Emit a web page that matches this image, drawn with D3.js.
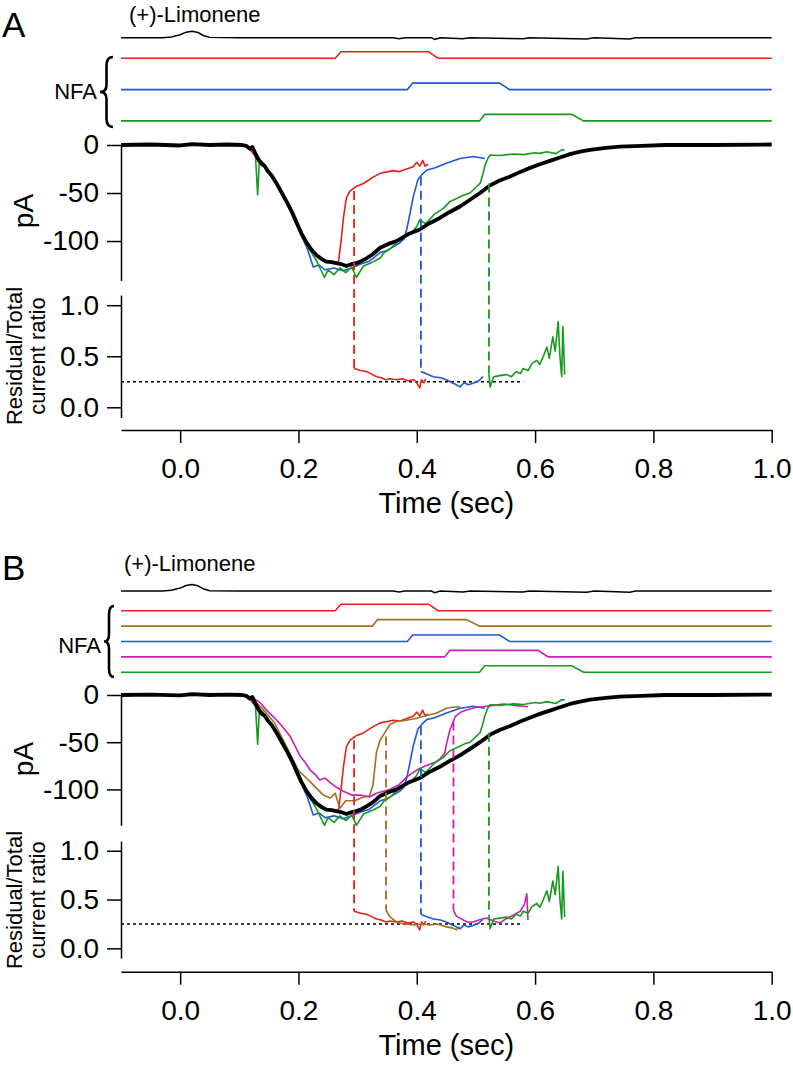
<!DOCTYPE html>
<html>
<head>
<meta charset="utf-8">
<script src="https://cdn.jsdelivr.net/npm/d3@7"></script>
<style>
    body { margin: 0; background: #fff; }
    svg text { font-family: "Liberation Sans", Arial, Helvetica, sans-serif; fill: #000; }
    .axis path, .axis line { stroke: #000; stroke-width: 1.5; }
    .axis text { font-size: 28px; }
</style>
</head>
<body>
<svg id="chart" width="793" height="1066"></svg>
<script>
// ticks
const timeTicks = [0.0, 0.2, 0.4, 0.6, 0.8, 1.0];
const currentTicks = [0, -50, -100];
const ratioTicks = [0.0, 0.5, 1.0];
const ratioLevel = 0.25;
const ratioLevelEnd = 0.58;

// (+)-Limonene puff monitor, 1 = peak of the puff
const limonene = [[-0.1,0],[-0.03,0],[-0.015,0.1],[0.0,0.45],[0.01,0.85],[0.02,1],[0.03,0.8],[0.04,0.3],[0.05,0.05],
    [0.1,0],[0.2,0],[0.36,0],[0.37,-0.15],[0.38,0],[0.425,0],[0.43,-0.25],[0.44,0],[0.478,-0.15],[0.49,0],
    [0.58,-0.15],[0.59,0],[0.687,-0.2],[0.7,0],[0.76,-0.2],[0.77,0],[1.0,0]];

// NFA pulses: rise start, rise end, fall start, fall end (sec)
const nfaRed     = [0.262, 0.272, 0.420, 0.436];
const nfaBrown   = [0.325, 0.334, 0.484, 0.506];
const nfaBlue    = [0.384, 0.393, 0.540, 0.557];
const nfaMagenta = [0.447, 0.456, 0.605, 0.622];
const nfaGreen   = [0.506, 0.515, 0.662, 0.682];

// whole-cell current (pA)
const currentMean = [[-0.1,0],[-0.05,0.5],[0.0,-0.5],[0.02,1],[0.05,0],[0.08,0.5],[0.105,0],[0.112,-1],[0.118,-4],
    [0.122,-2],[0.128,-10],[0.133,-16],[0.138,-20],[0.143,-22],[0.148,-27],[0.155,-32],[0.163,-40],[0.172,-50],
    [0.18,-59],[0.19,-71],[0.197,-81],[0.205,-92],[0.214,-102],[0.222,-109],[0.231,-115],[0.24,-119],[0.247,-121.5],
    [0.256,-122],[0.264,-123],[0.272,-124],[0.281,-126],[0.29,-124],[0.298,-123],[0.306,-121],[0.315,-118],
    [0.325,-114],[0.338,-107],[0.352,-103],[0.366,-100],[0.385,-93],[0.405,-88],[0.42,-82],[0.439,-76],
    [0.455,-70],[0.473,-64],[0.49,-57],[0.507,-50],[0.524,-42],[0.54,-37],[0.557,-33],[0.575,-28],[0.591,-24],
    [0.608,-20],[0.625,-16.5],[0.642,-13],[0.659,-9.5],[0.676,-7],[0.693,-5],[0.72,-3],[0.743,-1.7],[0.78,-1],
    [0.82,0],[0.9,0],[1.0,0.5]];
const currentRed = [[-0.1,0],[0.1,0],[0.115,-2],[0.13,-14],[0.15,-28],[0.17,-48],[0.19,-71],[0.21,-98],[0.23,-114],
    [0.245,-120],[0.258,-122],[0.265,-124],[0.268,-120],[0.272,-100],[0.276,-76],[0.281,-55],[0.287,-48],
    [0.298,-43],[0.307,-41],[0.315,-38],[0.325,-34],[0.338,-29.5],[0.35,-28],[0.36,-26.7],[0.371,-27.7],
    [0.383,-25],[0.394,-22.6],[0.4,-18],[0.405,-22],[0.41,-16],[0.414,-22],[0.419,-20]];
const currentBlue = [[-0.1,0],[0.0,-0.5],[0.1,0],[0.11,-1],[0.125,-5],[0.14,-20],[0.16,-38],[0.18,-60],[0.2,-88],
    [0.215,-108],[0.225,-127],[0.235,-125],[0.245,-130],[0.26,-128],[0.275,-131],[0.29,-128],[0.305,-124],
    [0.32,-121],[0.338,-112],[0.35,-110],[0.36,-106],[0.371,-102],[0.378,-98],[0.383,-88],[0.389,-70],
    [0.394,-54],[0.402,-36],[0.41,-30],[0.417,-26],[0.43,-24],[0.45,-19],[0.46,-17],[0.473,-14],[0.485,-13],
    [0.495,-12],[0.505,-13],[0.515,-14]];
const currentGreen = [[-0.1,0],[0.1,0],[0.12,-2],[0.127,-8],[0.131,-52],[0.134,-15],[0.14,-18],[0.155,-32],
    [0.17,-48],[0.185,-63],[0.2,-86],[0.215,-105],[0.23,-120],[0.244,-138],[0.25,-130],[0.26,-135],[0.27,-128],
    [0.28,-133],[0.29,-127],[0.298,-138],[0.31,-126],[0.325,-122],[0.338,-118],[0.345,-112],[0.355,-108],
    [0.365,-102],[0.375,-96],[0.39,-92],[0.4,-85],[0.405,-78],[0.415,-82],[0.43,-72],[0.445,-66],[0.456,-59],
    [0.47,-55],[0.48,-52],[0.49,-50],[0.5,-44],[0.507,-40],[0.512,-30],[0.515,-22],[0.52,-14],[0.524,-10.4],
    [0.54,-11],[0.563,-9.4],[0.58,-10],[0.6,-8],[0.608,-8.7],[0.62,-7],[0.635,-9],[0.645,-5],[0.65,-5.2]];
const currentBrown = [[-0.1,0],[0.1,0],[0.12,-3],[0.14,-15],[0.16,-30],[0.18,-55],[0.2,-80],[0.22,-92],
    [0.242,-106],[0.254,-109],[0.262,-104],[0.27,-120],[0.28,-112],[0.295,-112],[0.31,-108],[0.32,-107],
    [0.326,-95],[0.332,-60],[0.338,-48],[0.349,-37],[0.355,-31],[0.366,-28],[0.38,-27],[0.4,-24.7],[0.415,-22],
    [0.433,-19.4],[0.45,-14],[0.46,-13],[0.473,-12.4]];
const currentMagenta = [[-0.1,0],[0.1,0],[0.12,-2],[0.135,-8],[0.146,-16],[0.163,-26.5],[0.175,-35],[0.186,-44],
    [0.195,-55],[0.203,-65],[0.212,-72],[0.22,-79.5],[0.228,-84],[0.236,-90],[0.245,-88],[0.254,-93],[0.265,-98],
    [0.276,-102],[0.29,-106],[0.304,-106],[0.32,-108],[0.332,-104],[0.354,-100],[0.37,-95],[0.385,-86],
    [0.4,-79.5],[0.415,-75],[0.433,-70.6],[0.44,-67],[0.447,-62],[0.451,-50],[0.456,-37],[0.465,-23],[0.475,-18],
    [0.484,-16],[0.5,-13],[0.512,-12.4],[0.53,-11],[0.547,-9.5],[0.565,-11],[0.588,-12.4]];

// residual / total current ratio after the NFA pulse
const ratioRed = [[0.294,0.38],[0.3,0.37],[0.305,0.36],[0.315,0.35],[0.322,0.33],[0.332,0.30],[0.34,0.29],
    [0.348,0.27],[0.355,0.28],[0.365,0.27],[0.375,0.28],[0.385,0.26],[0.395,0.27],[0.4,0.24],[0.405,0.19],
    [0.408,0.27],[0.412,0.24],[0.415,0.28]];
const ratioBrown = [[0.348,0.39],[0.355,0.32],[0.366,0.27],[0.371,0.26],[0.38,0.25],[0.394,0.24],[0.41,0.25],
    [0.422,0.24],[0.435,0.25],[0.45,0.22],[0.46,0.21],[0.467,0.19],[0.472,0.22]];
const ratioBlue = [[0.407,0.35],[0.415,0.33],[0.428,0.30],[0.44,0.29],[0.45,0.27],[0.46,0.24],[0.467,0.22],
    [0.473,0.2],[0.48,0.24],[0.487,0.22],[0.495,0.235],[0.505,0.26],[0.512,0.3]];
const ratioMagenta = [[0.462,0.39],[0.467,0.33],[0.473,0.31],[0.485,0.27],[0.495,0.27],[0.505,0.29],[0.518,0.31],
    [0.53,0.28],[0.54,0.26],[0.55,0.3],[0.563,0.34],[0.575,0.38],[0.582,0.45],[0.586,0.56],[0.588,0.29]];
const ratioGreen = [[0.522,0.33],[0.524,0.2],[0.53,0.3],[0.54,0.31],[0.552,0.32],[0.56,0.30],[0.568,0.35],
    [0.575,0.33],[0.58,0.38],[0.588,0.36],[0.595,0.43],[0.603,0.46],[0.608,0.42],[0.614,0.5],[0.62,0.59],
    [0.624,0.48],[0.63,0.69],[0.634,0.55],[0.639,0.84],[0.642,0.5],[0.645,0.30],[0.647,0.79],[0.65,0.32]];

// NFA onset markers: time (sec) and current (pA) where the dashed line starts
const markerTimes   = {red: 0.294, brown: 0.348, blue: 0.407, magenta: 0.462, green: 0.522};
const markerCurrent = {red: -48, brown: -44, blue: -33, magenta: -28, green: -40};

const colors = {red: '#e3211c', brown: '#a36f1f', blue: '#1f57d6', magenta: '#c81fb4', green: '#179a1c'};

const traces = {
    red:     {nfa: nfaRed,     current: currentRed,     ratio: ratioRed},
    brown:   {nfa: nfaBrown,   current: currentBrown,   ratio: ratioBrown},
    blue:    {nfa: nfaBlue,    current: currentBlue,    ratio: ratioBlue},
    magenta: {nfa: nfaMagenta, current: currentMagenta, ratio: ratioMagenta},
    green:   {nfa: nfaGreen,   current: currentGreen,   ratio: ratioGreen}
};

const panels = [
    {letter: 'A', letterY: 37, keys: ['red', 'blue', 'green'],
     limX: 129, limTextY: 22, limY: 37.7, nfaY0: 58.3, nfaGap: 31.3,
     nfaTextX: 97, nfaTextY: 99, brace: [100, 113, 57, 127],
     iTop: 145, iBottom: 280.4, iMin: -141, rTop: 295, rBottom: 417.5,
     xAxisY: 430, titleY: 513, pAy: 211, ratioLabelY: 356},
    {letter: 'B', letterY: 580, keys: ['red', 'brown', 'blue', 'magenta', 'green'],
     limX: 124, limTextY: 571, limY: 591, nfaY0: 610.7, nfaGap: 15.4,
     nfaTextX: 101, nfaTextY: 653, brace: [104, 114, 606, 677],
     iTop: 695, iBottom: 825.3, iMin: -138, rTop: 841, rBottom: 958.1,
     xAxisY: 971.7, titleY: 1055, pAy: 759, ratioLabelY: 900}
];

const svg = d3.select('#chart');
const x = d3.scaleLinear().domain([-0.1, 1.0]).range([121, 771.7]);

function pulse(p){
    return [[-0.1,0],[p[0],0],[p[1],1],[p[2],1],[p[3],0],[1.0,0]];
}

function bracePath(x0, x1, y0, y1){
    let xm = (x0 + x1) / 2, ym = (y0 + y1) / 2, h = y1 - y0;
    return 'M' + x1 + ',' + y0 + ' Q' + xm + ',' + y0 + ' ' + xm + ',' + (y0 + h * 0.12) +
        ' L' + xm + ',' + (ym - h * 0.1) + ' Q' + xm + ',' + ym + ' ' + x0 + ',' + ym +
        ' Q' + xm + ',' + ym + ' ' + xm + ',' + (ym + h * 0.1) +
        ' L' + xm + ',' + (y1 - h * 0.12) + ' Q' + xm + ',' + y1 + ' ' + x1 + ',' + y1;
}

function drawPanel(p){
    let g = svg.append('g');

    let yI = d3.scaleLinear().domain([0, p.iMin]).range([p.iTop, p.iBottom]);
    let yR = d3.scaleLinear().domain([-0.1, 1.1]).range([p.rBottom, p.rTop]);

    g.append('text').attr('x', 2).attr('y', p.letterY)
        .style('font-size', '35px').text(p.letter);

    // stimulus monitors
    g.append('text').attr('x', p.limX).attr('y', p.limTextY)
        .style('font-size', '22px').text('(+)-Limonene');

    let yLim = d3.scaleLinear().domain([0, 1]).range([p.limY, p.limY - 6.5]);
    g.append('path').datum(limonene)
        .attr('d', d3.line().x(d => x(d[0])).y(d => yLim(d[1])))
        .attr('fill', 'none').attr('stroke', '#000').attr('stroke-width', 1.5);

    p.keys.forEach((k, i) => {
        let base = p.nfaY0 + i * p.nfaGap;
        let yS = d3.scaleLinear().domain([0, 1]).range([base, base - 6.5]);
        g.append('path').datum(pulse(traces[k].nfa))
            .attr('d', d3.line().x(d => x(d[0])).y(d => yS(d[1])))
            .attr('fill', 'none').attr('stroke', colors[k]).attr('stroke-width', 1.6);
    });

    g.append('text').attr('x', p.nfaTextX).attr('y', p.nfaTextY)
        .attr('text-anchor', 'end').style('font-size', '22px').text('NFA');
    g.append('path').attr('d', bracePath(p.brace[0], p.brace[1], p.brace[2], p.brace[3]))
        .attr('fill', 'none').attr('stroke', '#000').attr('stroke-width', 2.6);

    // current panel
    let lineI = d3.line().x(d => x(d[0])).y(d => yI(d[1]));
    p.keys.forEach(k => {
        g.append('path').datum(traces[k].current)
            .attr('d', lineI)
            .attr('fill', 'none').attr('stroke', colors[k]).attr('stroke-width', 1.6)
            .attr('stroke-linejoin', 'round');
    });
    g.append('path').datum(currentMean)
        .attr('d', lineI)
        .attr('fill', 'none').attr('stroke', '#000').attr('stroke-width', 3.8)
        .attr('stroke-linejoin', 'round');

    // dashed markers linking current and ratio
    p.keys.forEach(k => {
        g.append('line')
            .attr('x1', x(markerTimes[k])).attr('x2', x(markerTimes[k]))
            .attr('y1', yI(markerCurrent[k])).attr('y2', yR(traces[k].ratio[0][1]))
            .attr('stroke', colors[k]).attr('stroke-width', 1.8)
            .attr('stroke-dasharray', '9,5');
    });

    // ratio panel
    g.append('line')
        .attr('x1', x(-0.1)).attr('x2', x(ratioLevelEnd))
        .attr('y1', yR(ratioLevel)).attr('y2', yR(ratioLevel))
        .attr('stroke', '#000').attr('stroke-width', 1.5).attr('stroke-dasharray', '3,3');

    let lineR = d3.line().x(d => x(d[0])).y(d => yR(d[1]));
    p.keys.forEach(k => {
        g.append('path').datum(traces[k].ratio)
            .attr('d', lineR)
            .attr('fill', 'none').attr('stroke', colors[k]).attr('stroke-width', 1.6)
            .attr('stroke-linejoin', 'round');
    });

    // axes
    g.append('g').attr('class', 'axis')
        .attr('transform', 'translate(' + x(-0.1) + ',0)')
        .call(d3.axisLeft(yI).tickValues(currentTicks).tickFormat(d => String(d))
            .tickSize(14).tickPadding(8).tickSizeOuter(0));

    g.append('g').attr('class', 'axis')
        .attr('transform', 'translate(' + x(-0.1) + ',0)')
        .call(d3.axisLeft(yR).tickValues(ratioTicks).tickFormat(d3.format('.1f'))
            .tickSize(14).tickPadding(8).tickSizeOuter(0));

    g.append('g').attr('class', 'axis')
        .attr('transform', 'translate(0,' + p.xAxisY + ')')
        .call(d3.axisBottom(x).tickValues(timeTicks).tickFormat(d3.format('.1f'))
            .tickSize(13).tickPadding(15).tickSizeOuter(0));

    g.selectAll('.axis').attr('font-family', null).attr('font-size', null);

    g.append('text').attr('x', (x(-0.1) + x(1.0)) / 2).attr('y', p.titleY)
        .attr('text-anchor', 'middle').style('font-size', '29px').text('Time (sec)');

    g.append('text')
        .attr('transform', 'translate(33,' + p.pAy + ') rotate(-90)')
        .attr('text-anchor', 'middle').style('font-size', '28px').text('pA');

    g.append('text')
        .attr('transform', 'translate(22,' + p.ratioLabelY + ') rotate(-90)')
        .attr('text-anchor', 'middle').style('font-size', '22px').text('Residual/Total');
    g.append('text')
        .attr('transform', 'translate(45,' + p.ratioLabelY + ') rotate(-90)')
        .attr('text-anchor', 'middle').style('font-size', '22px').text('current ratio');
}

panels.forEach(drawPanel);
</script>
</body>
</html>
